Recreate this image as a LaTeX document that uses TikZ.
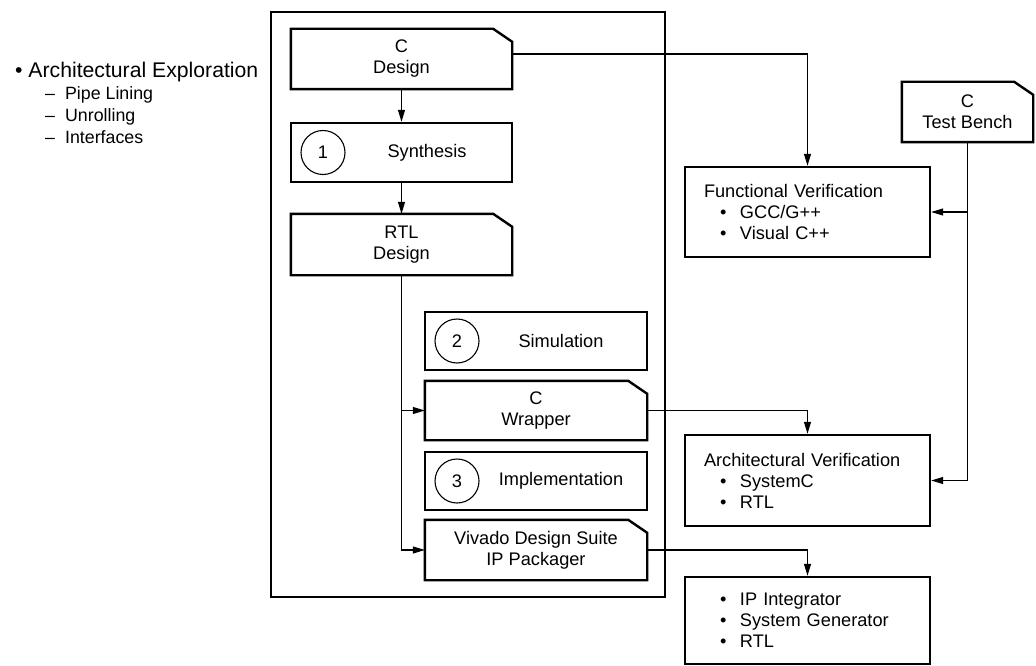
\documentclass[tikz,border=0pt]{standalone}
\usepackage{fontspec}
\setmainfont{Liberation Sans}
\usetikzlibrary{arrows.meta}
\newcommand\bulitem{\hspace*{16pt}\makebox[20pt][l]{\textbullet}}
\newcommand\cutbox[1]{\draw[boxline] (#1.south west) -- (#1.north west) -- ([xshift=-19pt]#1.north east) -- ([yshift=-13pt]#1.north east) -- (#1.south east) -- cycle;}
\begin{document}
\begin{tikzpicture}[x=1pt,y=-1pt,
  boxline/.style={line width=2.4pt, line join=miter},
  box/.style={draw, line width=2.4pt, inner sep=0pt},
  txt/.style={font=\fontsize{18.2pt}{21pt}\selectfont},
  cbox/.style={txt, align=center, inner sep=0pt},
  num/.style={circle, draw, line width=1.1pt, minimum size=44pt, inner sep=0pt, font=\fontsize{18.2pt}{21pt}\selectfont},
  vbox/.style={box, txt, minimum width=245pt, text width=207pt, inner xsep=19pt, align=left},
  conn/.style={line width=1.1pt},
  arr/.style={conn, -{Triangle[length=12pt,width=7pt]}},
]
\useasboundingbox (0,0) rectangle (1036,666);

% left list
\node[anchor=base west, inner sep=0pt, font=\fontsize{21.2pt}{25pt}\selectfont] (expl) at (15,78) {\textbullet\ Architectural Exploration};
\node[anchor=base west, inner sep=0pt, font=\fontsize{17.8pt}{21pt}\selectfont] (pipe) at (45,100) {\textendash\hspace{10pt}Pipe Lining};
\node[anchor=base west, inner sep=0pt, font=\fontsize{17.8pt}{21pt}\selectfont] (unroll) at (45,122) {\textendash\hspace{10pt}Unrolling};
\node[anchor=base west, inner sep=0pt, font=\fontsize{17.8pt}{21pt}\selectfont] (interf) at (45,144) {\textendash\hspace{10pt}Interfaces};

% frame
\node[box, minimum width=394pt, minimum height=585pt] (frame) at (468,304.5) {};

% left column
\node[cbox, minimum width=221pt, minimum height=60pt] (cdesign) at (401.5,59) {C\\Design};
\cutbox{cdesign}
\node[box, minimum width=221pt, minimum height=59pt] (synth) at (401.5,152.5) {};
\node[num] (c1) at (323,152.5) {1};
\node[txt] (synthlbl) at (427,152.5) {Synthesis};
\node[cbox, minimum width=221pt, minimum height=61pt] (rtl) at (401.5,244.5) {RTL\\Design};
\cutbox{rtl}

% right column inside frame
\node[box, minimum width=222pt, minimum height=58pt] (sim) at (536,341) {};
\node[num] (c2) at (457,341) {2};
\node[txt] (simlbl) at (561,341) {Simulation};
\node[cbox, minimum width=222pt, minimum height=59pt] (wrapper) at (536,410.5) {C\\Wrapper};
\cutbox{wrapper}
\node[box, minimum width=222pt, minimum height=58pt] (impl) at (536,481) {};
\node[num] (c3) at (457,481) {3};
\node[txt] (impllbl) at (561,481) {Implementation};
\node[cbox, minimum width=222pt, minimum height=60pt] (vivado) at (536,550) {Vivado Design Suite\\IP Packager};
\cutbox{vivado}

% outside
\node[cbox, minimum width=131pt, minimum height=60pt] (tb) at (967.5,112) {C\\Test Bench};
\cutbox{tb}
\node[vbox, minimum height=90pt] (fv) at (807.5,212) {Functional Verification\\\bulitem GCC/G++\\\bulitem Visual C++};
\node[vbox, minimum height=91pt] (arch) at (807.5,480.5) {Architectural Verification\\\bulitem SystemC\\\bulitem RTL};
\node[vbox, minimum height=87pt] (ipbox) at (807.5,620.5) {\bulitem IP Integrator\\\bulitem System Generator\\\bulitem RTL};

% connectors
\draw[arr] (cdesign) -- (synth);
\draw[arr] (synth) -- (rtl);
\draw[arr] (rtl.south) |- (vivado.west);
\draw[arr] (rtl.south |- wrapper.west) -- (wrapper.west);
\draw[arr] ([yshift=5pt]cdesign.east) -| (fv.north);
\draw[arr] (wrapper.east) -| (arch.north);
\draw[arr] (vivado.east) -| (ipbox.north);
\draw[arr] (tb.south) |- (arch.east);
\draw[arr] (tb.south |- fv.east) -- (fv.east);
\end{tikzpicture}
\end{document}
